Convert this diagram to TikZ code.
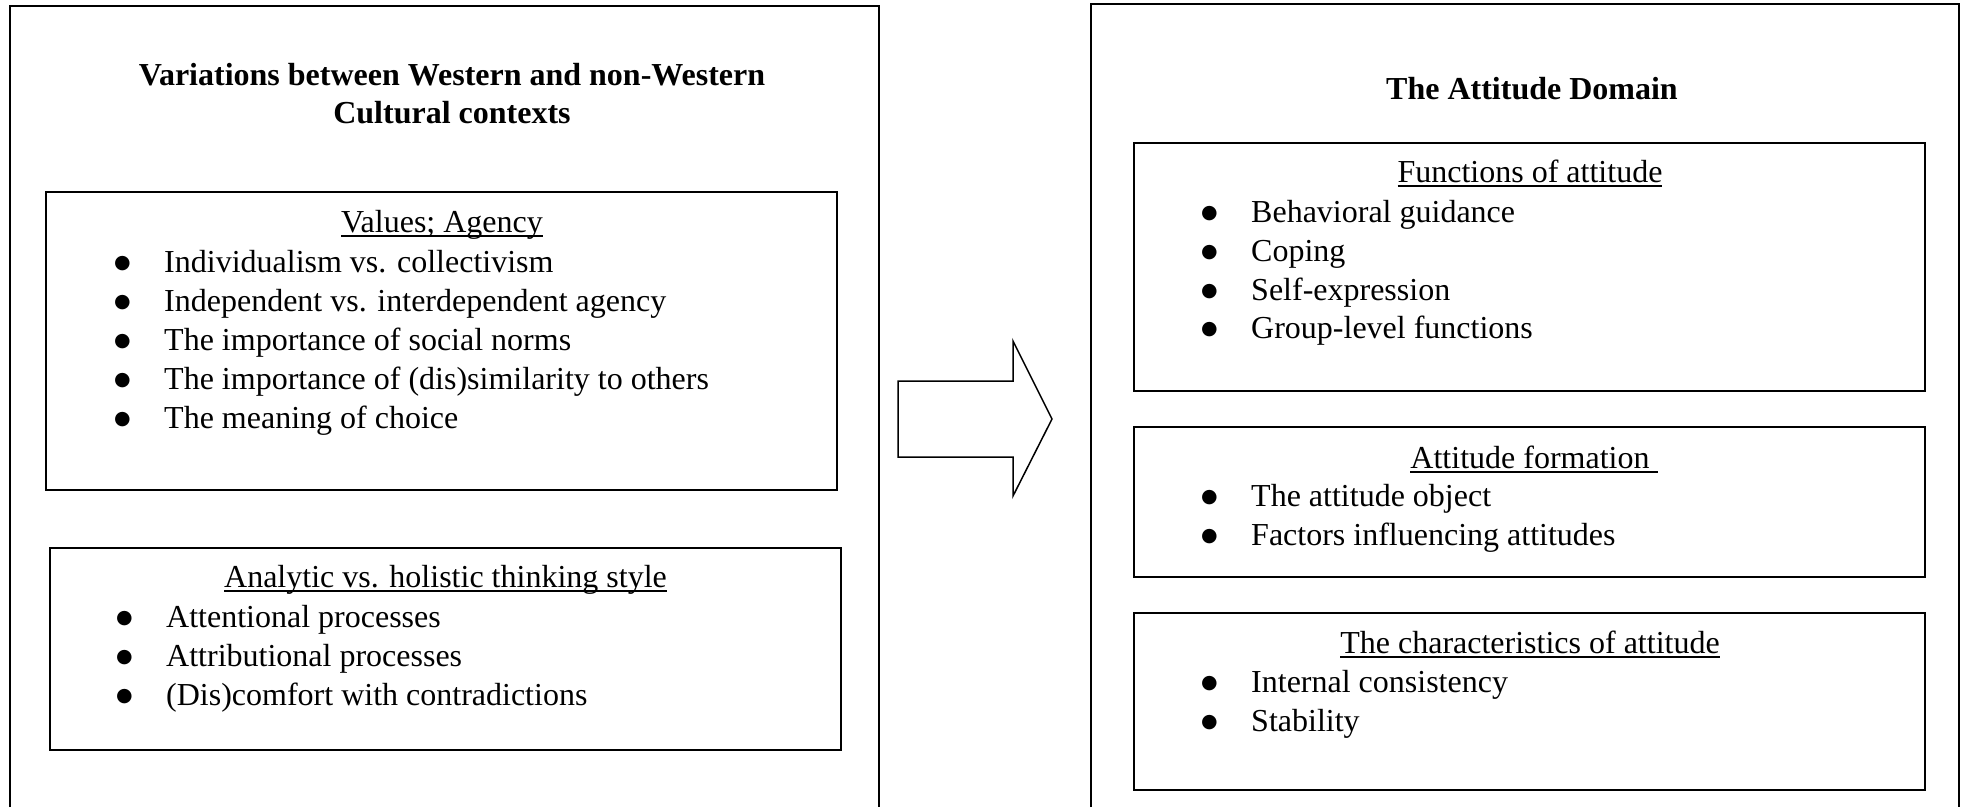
\documentclass[tikz,border=0pt]{standalone}
\usepackage{fontspec}
\setmainfont{Liberation Serif}
\newfontfamily\dotfont{DejaVu Sans}
\usetikzlibrary{positioning}

\newlength{\ulw}
\newcommand{\ulined}[1]{\settowidth{\ulw}{#1}\rlap{\rule[-5pt]{\ulw}{1.8pt}}#1}
\newcommand{\bul}{\makebox[50pt][l]{\raisebox{4pt}{\dotfont\fontsize{19}{19}\selectfont ●}}}

\tikzset{
  frame/.style={line width=2pt},
  box/.style={draw, line width=2pt, inner sep=0pt, minimum width=791pt},
  title/.style={anchor=base, inner sep=0pt, align=center, font=\fontsize{32}{38}\selectfont\bfseries},
  heading/.style={anchor=base, inner sep=0pt, font=\fontsize{32}{38}\selectfont},
  item/.style={anchor=base west, inner sep=0pt, font=\fontsize{32}{38}\selectfont},
}

\begin{document}
\begin{tikzpicture}[x=1pt, y=-1pt]
    \useasboundingbox (0,0) rectangle (1967,807);

    % Outer frames (open at the bottom)
    \draw[frame] (10,807) -- (10,6) -- (879,6) -- (879,807);
    \draw[frame] (1091,807) -- (1091,4) -- (1959,4) -- (1959,807);

    % Declare the boxes
    \node[box, minimum height=298pt] at (441.5, 341) (L1) {};
    \node[box, minimum height=202pt] at (445.5, 649) (L2) {};
    \node[box, minimum height=248pt] at (1529.5, 267) (R1) {};
    \node[box, minimum height=150pt] at (1529.5, 502) (R2) {};
    \node[box, minimum height=177pt] at (1529.5, 701.5) (R3) {};

    % Titles
    \node[title] at (452, 123) (TL) {Variations between Western and non-Western\\Cultural contexts};
    \node[title] at (1532, 99) (TR) {The Attitude Domain};

    % Left column
    \node[heading] at (442, 232) (HL1) {\ulined{Values; Agency}};
    \node[item] at (114, 272) (L1a) {\bul Individualism vs. collectivism};
    \node[item] at (114, 311) (L1b) {\bul Independent vs. interdependent agency};
    \node[item] at (114, 350) (L1c) {\bul The importance of social norms};
    \node[item] at (114, 389) (L1d) {\bul The importance of (dis)similarity to others};
    \node[item] at (114, 428) (L1e) {\bul The meaning of choice};

    \node[heading] at (445.5, 587) (HL2) {\ulined{Analytic vs. holistic thinking style}};
    \node[item] at (116, 627) (L2a) {\bul Attentional processes};
    \node[item] at (116, 666) (L2b) {\bul Attributional processes};
    \node[item] at (116, 705) (L2c) {\bul (Dis)comfort with contradictions};

    % Right column
    \node[heading] at (1530, 182) (HR1) {\ulined{Functions of attitude}};
    \node[item] at (1201, 222) (R1a) {\bul Behavioral guidance};
    \node[item] at (1201, 261) (R1b) {\bul Coping};
    \node[item] at (1201, 300) (R1c) {\bul Self-expression};
    \node[item] at (1201, 338) (R1d) {\bul Group-level functions};

    \node[heading] at (1530, 468) (HR2) {\ulined{Attitude formation\ }};
    \node[item] at (1201, 506) (R2a) {\bul The attitude object};
    \node[item] at (1201, 545) (R2b) {\bul Factors influencing attitudes};

    \node[heading] at (1530, 653) (HR3) {\ulined{The characteristics of attitude}};
    \node[item] at (1201, 692) (R3a) {\bul Internal consistency};
    \node[item] at (1201, 731) (R3b) {\bul Stability};

    % Block arrow between the frames
    \draw[line width=1.5pt, line join=miter] (898,381) -- (1013,381) -- (1013,341) -- (1052,419)
        -- (1013,496) -- (1013,457) -- (898,457) -- cycle;

\end{tikzpicture}
\end{document}
